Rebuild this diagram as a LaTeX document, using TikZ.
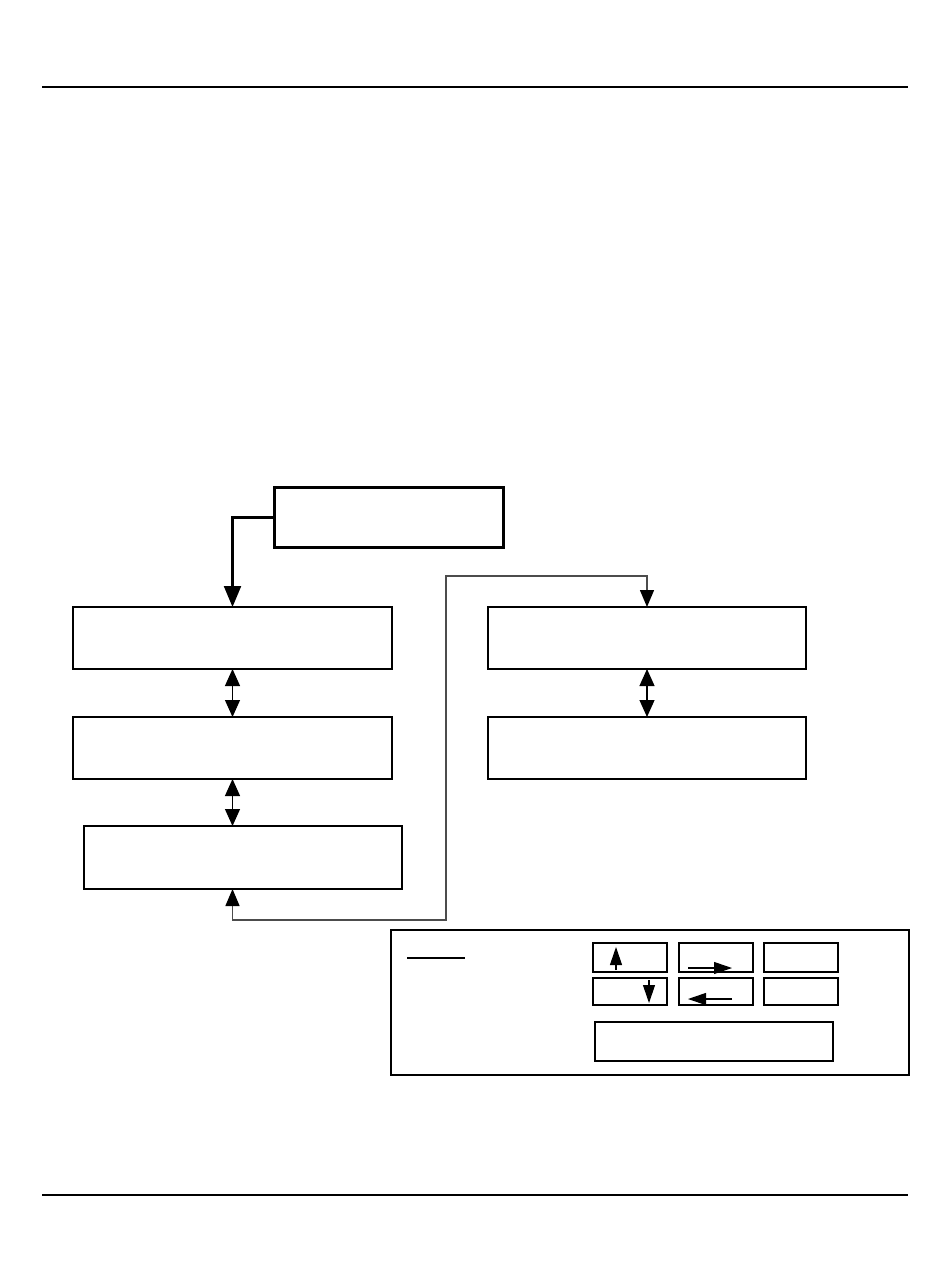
\documentclass[tikz,border=0pt]{standalone}
\usetikzlibrary{arrows.meta,calc}
\begin{document}
\begin{tikzpicture}[x=1pt,y=-1pt,
  box/.style={draw,line width=1.1pt,inner sep=0pt,outer sep=0pt,minimum width=319pt,minimum height=62pt},
  headbox/.style={draw,line width=2.8pt,inner sep=0pt,outer sep=0pt,minimum width=229pt,minimum height=60pt},
  legbox/.style={draw,line width=1.1pt,inner sep=0pt,outer sep=0pt},
  tip/.style={-{Triangle[length=21pt,width=17pt]}},
  dtip/.style={{Triangle[length=17pt,width=15pt]}-{Triangle[length=17pt,width=15pt]}},
  ltip/.style={-{Triangle[length=18pt,width=12pt]}},
  link/.style={line width=1.4pt,draw=black!70},
  rule/.style={line width=1.5pt}]
\useasboundingbox (0,0) rectangle (950,1284);
% page rules
\draw[rule] (42,87) -- (908,87);
\draw[rule] (42,1195) -- (908,1195);
% nodes
\node[headbox] (top) at (389,517.5) {};
\node[box] (b1) at (232.5,638) {};
\node[box] (b2) at (232.5,748) {};
\node[box,minimum width=318pt,minimum height=63pt] (b3) at (243,857.5) {};
\node[box,minimum width=318pt] (r1) at (647,638) {};
\node[box,minimum width=318pt] (r2) at (647,748) {};
% connectors
\draw[tip,line width=2.2pt] (top.west) -| (b1.north);
\draw[dtip,line width=1.2pt] (b1.south) -- (b2.north);
\draw[dtip,line width=1.2pt] (b2.south) -- (b1.south |- b3.north);
\draw[dtip,line width=1.2pt] (r1.south) -- (r2.north);
\coordinate (c1) at (446,920);
\coordinate (c2) at (446,576);
\draw[link,{Triangle[length=17pt,width=14pt,fill=black,color=black]}-{Triangle[length=17pt,width=14pt,fill=black,color=black]}] (b1.south |- b3.south) |- (c1) -- (c2) -| (r1.north);
% legend
\node[legbox,minimum width=518pt,minimum height=145pt] (leg) at (650,1002.5) {};
\coordinate (u1) at (407,958);
\coordinate (u2) at (465,958);
\draw[line width=1.3pt] (u1) -- (u2);
\node[legbox,minimum width=74pt,minimum height=29pt] (k1) at (630,957.5) {};
\node[legbox,minimum width=74pt,minimum height=29pt] (k2) at (716,957.5) {};
\node[legbox,minimum width=74pt,minimum height=29pt] (k3) at (801,957.5) {};
\node[legbox,minimum width=74pt,minimum height=27pt] (k4) at (630,991.5) {};
\node[legbox,minimum width=74pt,minimum height=27pt] (k5) at (716,991.5) {};
\node[legbox,minimum width=74pt,minimum height=27pt] (k6) at (801,991.5) {};
\node[legbox,minimum width=238pt,minimum height=39pt] (k7) at (714,1041.5) {};
\coordinate (a1s) at (616,970);
\coordinate (a1e) at (616,947);
\coordinate (a2s) at (688,968);
\coordinate (a2e) at (732,968);
\coordinate (a4s) at (649,980);
\coordinate (a4e) at (649,1003);
\coordinate (a5s) at (732,999);
\coordinate (a5e) at (688,999);
\draw[ltip,line width=1.1pt] (a1s) -- (a1e);
\draw[ltip,line width=1.1pt] (a2s) -- (a2e);
\draw[ltip,line width=1.1pt] (a4s) -- (a4e);
\draw[ltip,line width=1.1pt] (a5s) -- (a5e);
\end{tikzpicture}
\end{document}
